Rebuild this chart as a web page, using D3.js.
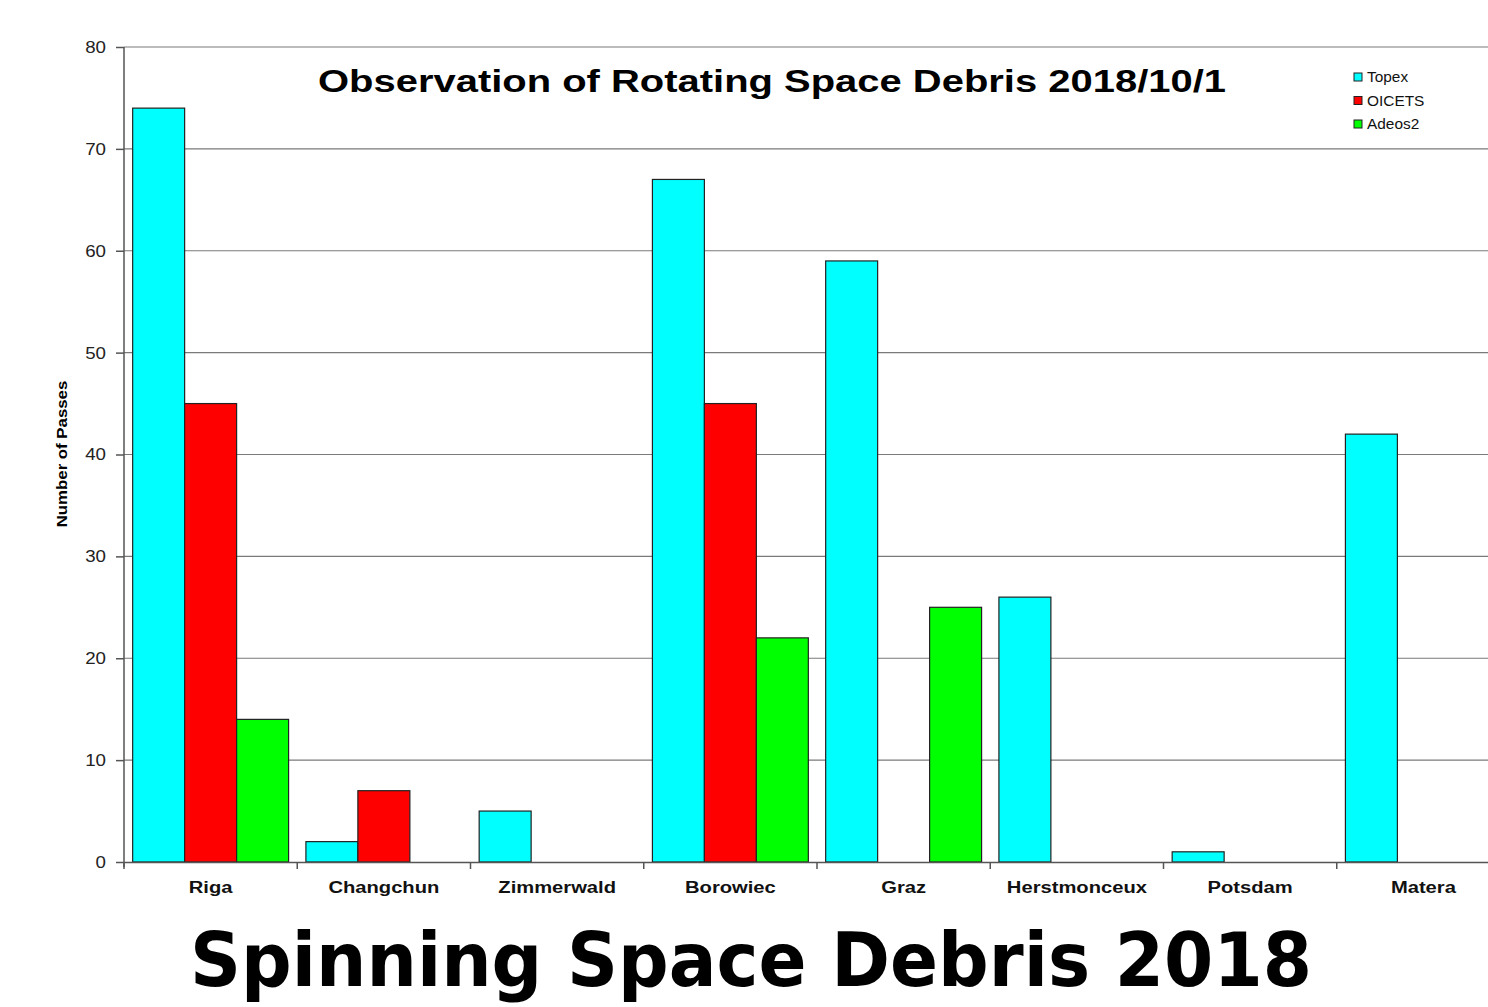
<!DOCTYPE html>
<html><head><meta charset="utf-8">
<script src="https://cdn.jsdelivr.net/npm/d3@7"></script>
<style>html,body{margin:0;padding:0;background:#fff;overflow:hidden}</style>
</head><body>
<svg id="c" width="1488" height="1007"></svg>
<script>
const categories = ["Riga","Changchun","Zimmerwald","Borowiec","Graz","Herstmonceux","Potsdam","Matera"];
const seriesNames = ["Topex","OICETS","Adeos2"];
const topex  = [74, 2, 5, 67, 59, 26, 1, 42];
const oicets = [45, 7, 0, 45, 0, 0, 0, 0];
const adeos2 = [14, 0, 0, 22, 25, 0, 0, 0];
const yTicks = [0,10,20,30,40,50,60,70,80];
const colors = ["#00ffff","#ff0000","#00ff00"];
const seriesValues = [topex, oicets, adeos2];

const svg = d3.select("#c");
const pL = 124, pR = 1510, pT = 47, pB = 862;
const x0 = d3.scaleBand().domain(categories).range([pL, pR]).padding(0);
const x1 = d3.scaleBand().domain(seriesNames).range([0, x0.bandwidth()]).paddingInner(0).paddingOuter(0.1667);
const y = d3.scaleLinear().domain([0, 80]).range([pB, pT]);

function stretch(sel, f) {
  sel.each(function() {
    const w = this.getComputedTextLength();
    d3.select(this).attr("textLength", w * f).attr("lengthAdjust", "spacingAndGlyphs");
  });
}

// gridlines
svg.append("g").selectAll("line").data(yTicks.filter(d=>d>0)).join("line")
  .attr("x1", pL).attr("x2", pR).attr("y1", d=>y(d)).attr("y2", d=>y(d))
  .attr("stroke", "#7a7a7a").attr("stroke-width", 1.2);

// bars
const data = [];
categories.forEach((c,i)=>seriesNames.forEach((s,j)=>{ if (seriesValues[j][i] > 0) data.push({c, s, v: seriesValues[j][i], col: colors[j]}); }));
svg.append("g").selectAll("rect").data(data).join("rect")
  .attr("x", d=>x0(d.c)+x1(d.s)).attr("width", x1.bandwidth())
  .attr("y", d=>y(d.v)).attr("height", d=>y(0)-y(d.v))
  .attr("fill", d=>d.col).attr("stroke", "#222").attr("stroke-width", 1.2);

// y axis
const yAxis = svg.append("g").attr("transform", `translate(${pL},0)`)
  .call(d3.axisLeft(y).tickValues(yTicks).tickSize(8).tickPadding(10));
yAxis.select(".domain").attr("stroke", "#555").attr("stroke-width", 1.5).attr("d", `M0,${pT}V${pB+5}`);
yAxis.selectAll(".tick line").attr("stroke", "#555").attr("stroke-width", 1.5);
yAxis.selectAll("text").attr("font-family", "Liberation Sans, Arial, sans-serif").attr("font-size", 17).attr("fill", "#222");
stretch(yAxis.selectAll("text"), 1.1);

// x axis
const xAxis = svg.append("g").attr("transform", `translate(0,${pB})`)
  .call(d3.axisBottom(x0).tickSize(0).tickPadding(20));
xAxis.select(".domain").attr("stroke", "#555").attr("stroke-width", 1.5);
xAxis.selectAll("text").attr("font-family", "Liberation Sans, Arial, sans-serif").attr("font-size", 16).attr("font-weight", "bold").attr("fill", "#111");
stretch(xAxis.selectAll("text"), 1.26);
// category separator ticks
svg.append("g").selectAll("line").data(categories).join("line")
  .attr("x1", d=>x0(d)).attr("x2", d=>x0(d)).attr("y1", pB).attr("y2", pB+7)
  .attr("stroke", "#555").attr("stroke-width", 1.5);

// y label
const yl = svg.append("text").attr("transform", `translate(67,454) rotate(-90)`).attr("text-anchor", "middle")
  .attr("font-family", "Liberation Sans, Arial, sans-serif").attr("font-size", 15).attr("font-weight", "bold")
  .text("Number of Passes");
stretch(yl, 1.12);

// title
svg.append("text").attr("x", 772).attr("y", 92).attr("text-anchor", "middle")
  .attr("font-family", "Liberation Sans, Arial, sans-serif").attr("font-size", 32).attr("font-weight", "bold")
  .attr("textLength", 908).attr("lengthAdjust", "spacingAndGlyphs")
  .text("Observation of Rotating Space Debris 2018/10/1");

// legend
const lg = svg.append("g").selectAll("g").data(seriesNames).join("g")
  .attr("transform", (d,i)=>`translate(1354,${77 + i*23.5})`);
lg.append("rect").attr("x", 0).attr("y", -4).attr("width", 8).attr("height", 8)
  .attr("fill", (d,i)=>colors[i]).attr("stroke", "#222").attr("stroke-width", 1);
const lt = lg.append("text").attr("x", 13).attr("y", 5).attr("font-family", "Liberation Sans, Arial, sans-serif")
  .attr("font-size", 14).attr("fill", "#111").text(d=>d);
stretch(lt, 1.1);

// big bottom caption
svg.append("text").attr("x", 751).attr("y", 986).attr("text-anchor", "middle")
  .attr("font-family", "DejaVu Sans, Verdana, sans-serif").attr("font-size", 75).attr("font-weight", "bold")
  .attr("textLength", 1122).attr("lengthAdjust", "spacingAndGlyphs")
  .text("Spinning Space Debris 2018");
</script>
</body></html>
